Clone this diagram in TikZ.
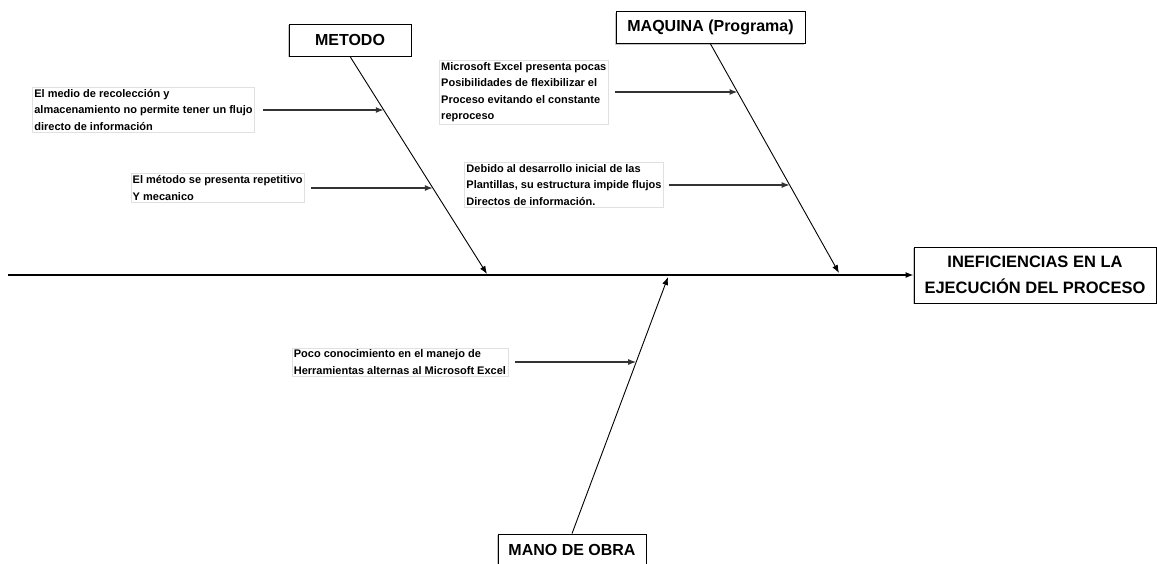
\documentclass[tikz,border=0pt]{standalone}
\usepackage{fontspec}
\setmainfont{Liberation Sans}
\usetikzlibrary{positioning,arrows.meta,shadows}

\begin{document}
\begin{tikzpicture}[
      x=1pt, y=-1pt,
      every node/.style={align=center, inner sep=2pt},
      headbox/.style={draw, line width=0.9pt, fill=white,
                      drop shadow={shadow xshift=-1.2pt, shadow yshift=-1.2pt, fill=black!45},
                      font=\fontsize{16}{18}\selectfont\bfseries,
                      minimum height=32pt},
      effect/.style={headbox, minimum width=242pt, minimum height=56pt,
                     font=\fontsize{16.5}{26}\selectfont\bfseries},
      cause/.style={draw=black!12, align=left, inner sep=2pt,
                    font=\fontsize{11}{16.5}\selectfont\bfseries},
      bone/.style={line width=0.9pt, -{Latex[length=8pt,width=6pt]}},
      arrow/.style={line width=1.3pt, draw=black!80, -{Latex[length=8pt,width=6pt]}},
  ]
    \useasboundingbox (0,0) rectangle (1157,563);

    %% --- Spine and effect ---
    \node[effect] (efecto) at (1035,275) {INEFICIENCIAS EN LA\\EJECUCIÓN DEL PROCESO};
    \coordinate (cola) at (8,275);
    \draw[line width=1.3pt, -{Latex[length=8pt,width=6pt]}] (cola) -- (efecto.west);

    %% --- Category headers ---
    \node[headbox, minimum width=122pt] (metodo) at (350,40) {METODO};
    \node[headbox, minimum width=189pt] (maquina) at (710.5,27.5) {MAQUINA (Programa)};
    \node[headbox, minimum width=148pt] (mano) at (572,550) {MANO DE OBRA};

    %% --- Bones ---
    \coordinate (pMetodo) at (487,274);
    \coordinate (pMaquina) at (839,273);
    \coordinate (pMano) at (668,277);
    \draw[bone] (metodo.south) -- (pMetodo);
    \draw[bone] (maquina.south) -- (pMaquina);
    \draw[bone] (mano.north) -- (pMano);

    %% --- Points on the bones ---
    \coordinate (m1) at (intersection of metodo.south--pMetodo and 0,110--100,110);
    \coordinate (m2) at (intersection of metodo.south--pMetodo and 0,188--100,188);
    \coordinate (q1) at (intersection of maquina.south--pMaquina and 0,92--100,92);
    \coordinate (q2) at (intersection of maquina.south--pMaquina and 0,185--100,185);
    \coordinate (o1) at (intersection of mano.north--pMano and 0,362--100,362);

    %% --- Causes ---
    \node[cause, left=129pt of m1] (c1) {El medio de recolección y\\
      almacenamiento no permite tener un flujo\\directo de información};
    \node[cause, left=128pt of m2] (c2) {El método se presenta repetitivo\\Y mecanico};
    \node[cause, left=129pt of q1] (c3) {Microsoft Excel presenta pocas\\
      Posibilidades de flexibilizar el\\Proceso evitando el constante\\reproceso};
    \node[cause, left=126pt of q2] (c4) {Debido al desarrollo inicial de las\\
      Plantillas, su estructura impide flujos\\Directos de información.};
    \node[cause, left=128pt of o1] (c5) {Poco conocimiento en el manejo de\\
      Herramientas alternas al Microsoft Excel};

    \draw[arrow] ([xshift=8pt]c1.east) -- (m1);
    \draw[arrow] ([xshift=6pt]c2.east) -- (m2);
    \draw[arrow] ([xshift=6pt]c3.east) -- (q1);
    \draw[arrow] ([xshift=5pt]c4.east) -- (q2);
    \draw[arrow] ([xshift=7pt]c5.east) -- (o1);
  \end{tikzpicture}
\end{document}
